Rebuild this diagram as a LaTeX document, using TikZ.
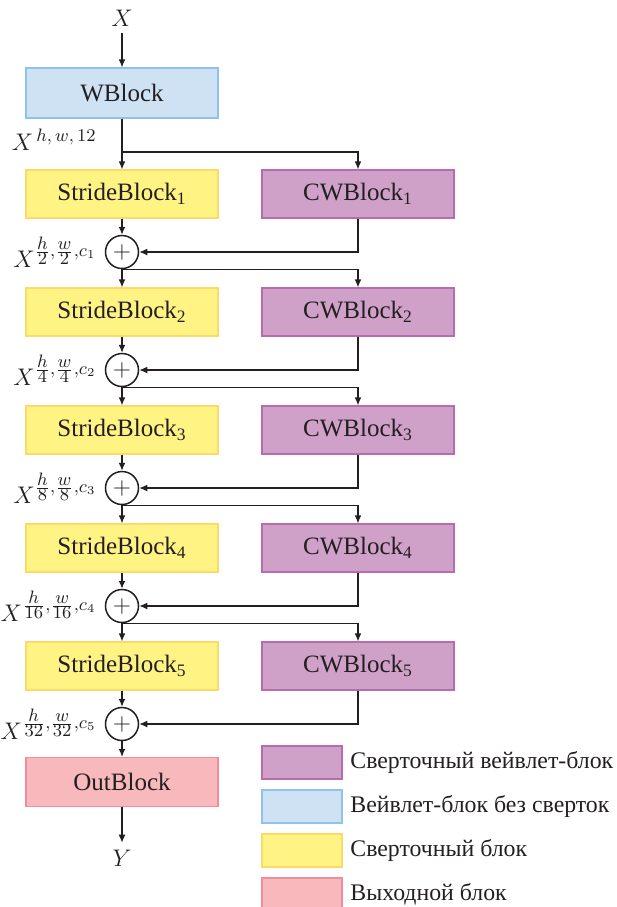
\documentclass[tikz,border=0pt]{standalone}
\usepackage{amsmath}
\usepackage{amssymb}
\usepackage{fontspec}
\setmainfont{Liberation Serif}
\usetikzlibrary{arrows.meta}
\definecolor{linec}{HTML}{231F20}
\definecolor{cwfill}{HTML}{CFA0C8}
\definecolor{cwline}{HTML}{B86BAE}
\definecolor{wbfill}{HTML}{CFE2F3}
\definecolor{wbline}{HTML}{8EC3EA}
\definecolor{sbfill}{HTML}{FFF383}
\definecolor{sbline}{HTML}{FFD966}
\definecolor{obfill}{HTML}{F8B9BC}
\definecolor{obline}{HTML}{F28C9C}
\newcommand{\sfr}[2]{\frac{\scriptstyle #1}{\scriptstyle #2}}

\begin{document}
\begin{tikzpicture}[x=0.5pt,y=-0.5pt]
\tikzstyle{every node}+=[font=\fontsize{12.5}{15}\selectfont, text=linec]
\tikzstyle{blk}=[draw, line width=0.6pt, minimum width=96pt, minimum height=24pt, inner sep=0pt]
\tikzstyle{sblk}=[blk, fill=sbfill, draw=sbline]
\tikzstyle{cblk}=[blk, fill=cwfill, draw=cwline]
\tikzstyle{wblk}=[blk, fill=wbfill, draw=wbline, minimum height=25pt]
\tikzstyle{oblk}=[blk, fill=obfill, draw=obline, minimum height=24.5pt]
\tikzstyle{plus}=[draw=linec, circle, line width=0.75pt, minimum size=16.5pt, inner sep=0pt]
\tikzstyle{dims}=[anchor=east, inner sep=0pt]
\tikzstyle{key}=[draw, line width=0.6pt, minimum width=40pt, minimum height=16.5pt, inner sep=0pt]
\tikzstyle{keytext}=[anchor=west, inner sep=0pt, font=\fontsize{11.9}{14}\selectfont]
\tikzstyle{arr}=[draw=linec, line width=0.6pt, -{Latex[length=4pt,width=3.4pt]}]
\useasboundingbox (0,0) rectangle (617,907);
\clip (0,0) rectangle (617,907);
% main column
\node (xin) at (122,18) {$X$};
\node[wblk] (wb) at (122,93) {WBlock};
\node[dims] (lx0) at (97,140) {$X^{\,h,\,w,\,12}$};
\coordinate (sp0) at (122,152);
\node[sblk] (s1) at (122,194) {StrideBlock\textsubscript{1}};
\node[cblk] (c1) at (358,194) {CWBlock\textsubscript{1}};
\node[plus] (p1) at (122,252) {$+$};
\node[sblk] (s2) at (122,312) {StrideBlock\textsubscript{2}};
\node[cblk] (c2) at (358,312) {CWBlock\textsubscript{2}};
\node[plus] (p2) at (122,370) {$+$};
\node[sblk] (s3) at (122,430) {StrideBlock\textsubscript{3}};
\node[cblk] (c3) at (358,430) {CWBlock\textsubscript{3}};
\node[plus] (p3) at (122,488) {$+$};
\node[sblk] (s4) at (122,548) {StrideBlock\textsubscript{4}};
\node[cblk] (c4) at (358,548) {CWBlock\textsubscript{4}};
\node[plus] (p4) at (122,606) {$+$};
\node[sblk] (s5) at (122,666) {StrideBlock\textsubscript{5}};
\node[cblk] (c5) at (358,666) {CWBlock\textsubscript{5}};
\node[plus] (p5) at (122,724) {$+$};
\node[oblk] (ob) at (122,782) {OutBlock};
\node (yout) at (122,858) {$Y$};
% sizes after each sum
\node[dims] (l1) at ([xshift=-4pt]p1.west) {$X^{\sfr{h}{2},\sfr{w}{2},c_1}$};
\node[dims] (l2) at ([xshift=-4pt]p2.west) {$X^{\sfr{h}{4},\sfr{w}{4},c_2}$};
\node[dims] (l3) at ([xshift=-4pt]p3.west) {$X^{\sfr{h}{8},\sfr{w}{8},c_3}$};
\node[dims] (l4) at ([xshift=-4pt]p4.west) {$X^{\sfr{h}{16},\sfr{w}{16},c_4}$};
\node[dims] (l5) at ([xshift=-4pt]p5.west) {$X^{\sfr{h}{32},\sfr{w}{32},c_5}$};
% connectors
\draw[arr] (xin) -- (wb);
\draw[arr] (wb) -- (s1);
\draw[arr] (sp0) -| (c1.north);
\draw[arr] (s1) -- (p1);
\draw[arr] (c1.south) |- (p1.east);
\draw[arr] (p1) -- (s2);
\draw[arr] (p1.south) -| (c2.north);
\draw[arr] (s2) -- (p2);
\draw[arr] (c2.south) |- (p2.east);
\draw[arr] (p2) -- (s3);
\draw[arr] (p2.south) -| (c3.north);
\draw[arr] (s3) -- (p3);
\draw[arr] (c3.south) |- (p3.east);
\draw[arr] (p3) -- (s4);
\draw[arr] (p3.south) -| (c4.north);
\draw[arr] (s4) -- (p4);
\draw[arr] (c4.south) |- (p4.east);
\draw[arr] (p4) -- (s5);
\draw[arr] (p4.south) -| (c5.north);
\draw[arr] (s5) -- (p5);
\draw[arr] (c5.south) |- (p5.east);
\draw[arr] (p5) -- (ob);
\draw[arr] (ob) -- (yout);
% legend
\node[key, fill=cwfill, draw=cwline] (k1) at (302,762.5) {};
\node[keytext] (t1) at (350,762.5) {Сверточный вейвлет-блок};
\node[key, fill=wbfill, draw=wbline] (k2) at (302,806.5) {};
\node[keytext] (t2) at (350,806.5) {Вейвлет-блок без сверток};
\node[key, fill=sbfill, draw=sbline] (k3) at (302,850.5) {};
\node[keytext] (t3) at (350,850.5) {Сверточный блок};
\node[key, fill=obfill, draw=obline] (k4) at (302,894.5) {};
\node[keytext] (t4) at (350,894.5) {Выходной блок};
\end{tikzpicture}
\end{document}
